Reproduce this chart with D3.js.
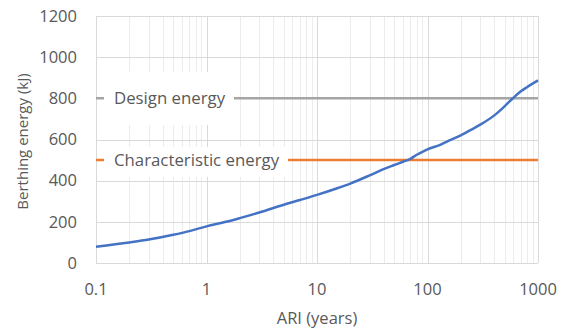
<!DOCTYPE html>
<html>
<head>
<meta charset="utf-8">
<script src="https://cdn.jsdelivr.net/npm/d3@7"></script>
<style>
  html, body { margin: 0; padding: 0; background: #fff; }
  svg text { font-family: "Open Sans", "Liberation Sans", sans-serif; fill: #595959; }
</style>
</head>
<body>
<svg id="chart" width="563" height="331"></svg>
<script>
// ---- data ----
const ari = [0.1, 0.2, 0.3, 0.5, 0.7, 1, 1.5, 2, 3, 5, 7, 10, 15, 20, 30, 40, 50, 60, 70, 80, 90, 100, 130, 150, 200, 250, 300, 400, 500, 600, 700, 800, 1000];
const energy = [79, 100, 114, 137, 155, 178, 200, 218, 245, 283, 306, 331, 362, 386, 426, 456, 476, 492, 506, 526, 540, 552, 574, 590, 620, 648, 672, 716, 762, 803, 834, 855, 887];
const designEnergy = 800;
const characteristicEnergy = 500;
const xTicks = [0.1, 1, 10, 100, 1000];
const xTickLabels = ["0.1", "1", "10", "100", "1000"];
const yTicks = [0, 200, 400, 600, 800, 1000, 1200];
const labels = ["Design energy", "Characteristic energy"];
const xTitle = "ARI (years)";
const yTitle = "Berthing energy (kJ)";

// ---- layout ----
const svg = d3.select("#chart");
const L = 96, R = 538, T = 16, B = 263;
const x = d3.scaleLog().domain([0.1, 1000]).range([L, R]);
const y = d3.scaleLinear().domain([0, 1200]).range([B, T]);

// minor vertical grid
const minor = [];
for (let d = 0.1; d < 1000; d *= 10) for (let k = 2; k <= 9; k++) minor.push(d * k);
svg.append("g").selectAll("line").data(minor).join("line")
  .attr("x1", d => Math.round(x(d)) + 0.5).attr("x2", d => Math.round(x(d)) + 0.5)
  .attr("y1", T).attr("y2", B)
  .attr("stroke", "#ececec").attr("stroke-width", 1);

// major vertical grid
svg.append("g").selectAll("line").data(xTicks).join("line")
  .attr("x1", d => Math.round(x(d)) + 0.5).attr("x2", d => Math.round(x(d)) + 0.5)
  .attr("y1", T).attr("y2", B)
  .attr("stroke", "#d9d9d9").attr("stroke-width", 1);

// horizontal grid
svg.append("g").selectAll("line").data(yTicks).join("line")
  .attr("x1", L).attr("x2", R)
  .attr("y1", d => Math.round(y(d)) + 0.5).attr("y2", d => Math.round(y(d)) + 0.5)
  .attr("stroke", "#d9d9d9").attr("stroke-width", 1);

// reference lines
svg.append("line").attr("x1", L).attr("x2", R)
  .attr("y1", y(designEnergy)).attr("y2", y(designEnergy))
  .attr("stroke", "#A5A5A5").attr("stroke-width", 2.5);
svg.append("line").attr("x1", L).attr("x2", R)
  .attr("y1", y(characteristicEnergy)).attr("y2", y(characteristicEnergy))
  .attr("stroke", "#ED7D31").attr("stroke-width", 2.5);

// label boxes
svg.append("rect").attr("x", 104).attr("y", 72).attr("width", 130).attr("height", 53).attr("fill", "#fff");
svg.append("rect").attr("x", 104).attr("y", 147).attr("width", 184).attr("height", 30).attr("fill", "#fff");
svg.append("text").attr("x", 114).attr("y", y(designEnergy)).attr("dy", "0.35em")
  .attr("font-size", 16.8).text(labels[0]);
svg.append("text").attr("x", 114).attr("y", y(characteristicEnergy)).attr("dy", "0.35em")
  .attr("font-size", 16.8).text(labels[1]);

// curve
const pts = ari.map((a, i) => [a, energy[i]]);
svg.append("path").datum(pts)
  .attr("fill", "none").attr("stroke", "#4472C4").attr("stroke-width", 2.5)
  .attr("stroke-linejoin", "round")
  .attr("d", d3.line().x(d => x(d[0])).y(d => y(d[1])).curve(d3.curveMonotoneX));

// axes labels
svg.append("g").selectAll("text").data(yTicks).join("text")
  .attr("x", 77).attr("y", d => y(d)).attr("dy", "0.35em")
  .attr("text-anchor", "end").attr("font-size", 16.5).text(d => d);
svg.append("g").selectAll("text").data(xTicks).join("text")
  .attr("x", d => x(d)).attr("y", 289).attr("dy", "0.35em")
  .attr("text-anchor", "middle").attr("font-size", 16.5).text((d, i) => xTickLabels[i]);

svg.append("text").attr("x", (L + R) / 2).attr("y", 318).attr("dy", "0.35em")
  .attr("text-anchor", "middle").attr("font-size", 16.5).text(xTitle);
svg.append("text").attr("transform", `translate(23,${(T + B) / 2 + 2}) rotate(-90)`)
  .attr("dy", "0.35em").attr("text-anchor", "middle").attr("font-size", 15).text(yTitle);
</script>
</body>
</html>
